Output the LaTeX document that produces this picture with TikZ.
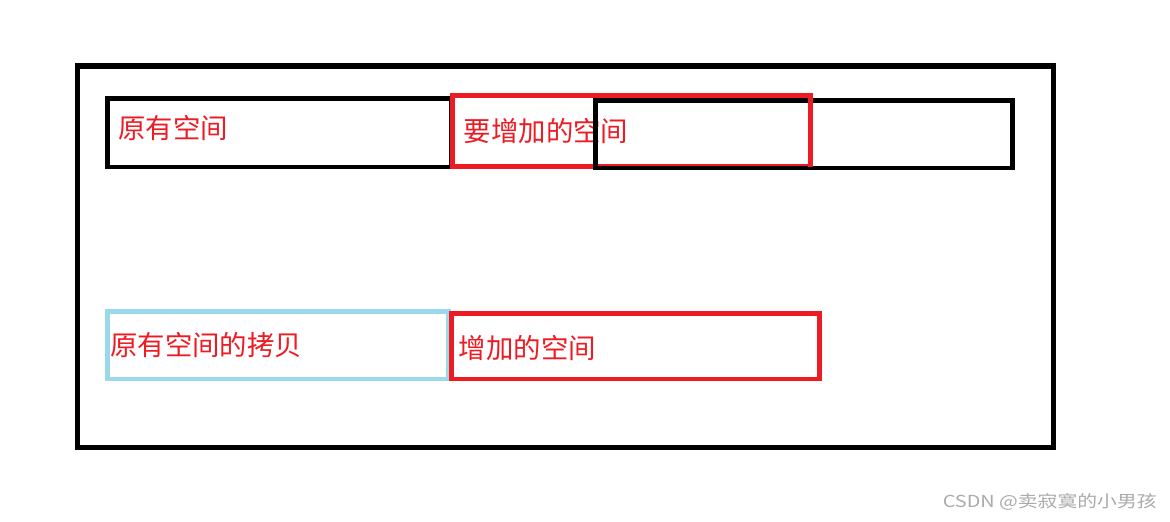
\documentclass[tikz,border=0pt]{standalone}
\usepackage{fontspec}
\newfontfamily\cjk{Noto Sans CJK SC}
\definecolor{paintred}{RGB}{237,28,36}
\definecolor{paintcyan}{RGB}{153,217,234}
\definecolor{markgray}{RGB}{170,170,170}
\tikzset{
  blackbox/.style={draw=black, line width=2.55pt},
  redbox/.style={draw=paintred, line width=2.55pt},
  copybox/.style={draw=paintcyan, line width=2.55pt},
  spacelabel/.style={anchor=west, inner sep=0pt, text=paintred, font=\cjk\fontsize{15.6pt}{18pt}\selectfont},
}
\begin{document}
\begin{tikzpicture}[x=0.02cm, y=-0.02cm]
  \useasboundingbox (0,0) rectangle (1170,521);
  \fill[white] (0,0) rectangle (1170,521);
  % frame
  \draw[black, line width=2.85pt] (77.5,66) rectangle (1053.5,447.5);
  % top row: old space, space to add, new space
  \draw[blackbox] (107.5,98.3) rectangle (451,167);
  \draw[redbox] (452.5,95.5) rectangle (810.3,166.7);
  \node[spacelabel] (oldlabel) at (118,128) {原有空间};
  \node[spacelabel] (addlabel) at (463.5,130.7) {要增加的空间};
  \draw[blackbox] (595.3,100.5) rectangle (1012.7,168);
  \draw[paintred, line width=2.55pt] (810.3,95.5) -- (810.3,166.7);
  % bottom row: copy of old space, added space
  \draw[copybox] (107.5,311.5) rectangle (448.7,379);
  \draw[redbox] (451.7,313.3) rectangle (819.5,379);
  \node[spacelabel] (copylabel) at (110,345.3) {原有空间的拷贝};
  \node[spacelabel] (addedlabel) at (458.5,348) {增加的空间};
  % watermark
  \node[anchor=east, inner sep=0pt, text=markgray, font=\cjk\fontsize{9.4pt}{11pt}\selectfont] (mark) at (1157,501.7) {\scalebox{1.2}[1]{CSDN @卖寂寞的小男孩}};
\end{tikzpicture}
\end{document}
